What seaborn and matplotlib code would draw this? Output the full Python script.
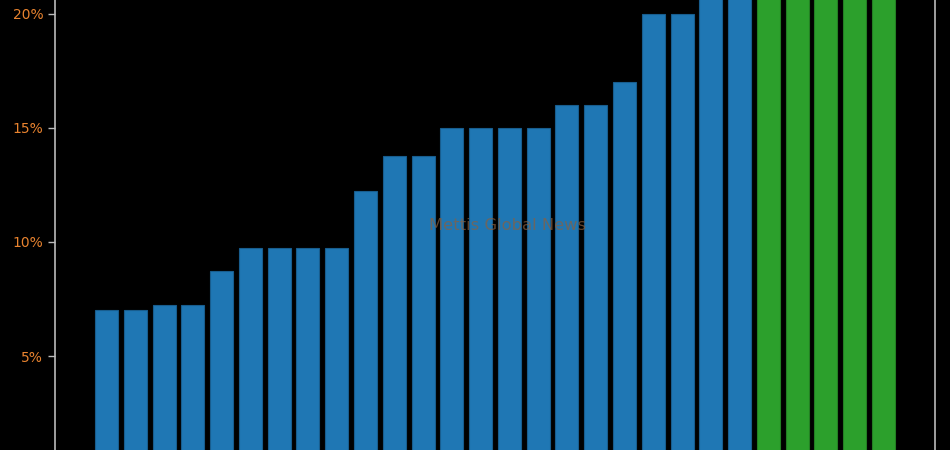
import pandas as pd
import matplotlib.pyplot as plt
import seaborn as sns
from matplotlib.ticker import FuncFormatter

# Bar values (%); bars above 20.6% are cut off at the top
labels = [f"B{i + 1}" for i in range(28)]
values = [7.0, 7.0, 7.25, 7.25, 8.75, 9.75, 9.75, 9.75, 9.75, 12.25,
          13.75, 13.75, 15.0, 15.0, 15.0, 15.0, 16.0, 16.0, 17.0, 20.0,
          20.0, 21.0, 21.5, 22.0, 22.0, 22.5, 23.0, 24.0]
groups = ["blue"] * 23 + ["green"] * 5
colors = {"blue": "#1f77b4", "green": "#2ca02c"}
edges = {"blue": "#185d8e", "green": "#237f23"}

df = pd.DataFrame({"label": labels, "value": values, "group": groups})

sns.set_style("ticks")
fig = plt.figure(figsize=(9.5, 4.5), dpi=100, facecolor="black")
ax = fig.add_axes([55 / 950, 0, 880 / 950, 1])
ax.set_facecolor("black")

sns.barplot(data=df, x="label", y="value", hue="group", palette=colors,
            dodge=False, width=0.8, legend=False, ax=ax, saturation=1)

# thin darker edge on each bar
for bar, grp in zip(ax.containers[0].patches + ax.containers[1].patches,
                    ["blue"] * 23 + ["green"] * 5):
    bar.set_edgecolor(edges[grp])
    bar.set_linewidth(0.8)

ax.set_xlim(-1.79, 28.79)
ax.set_ylim(0.88, 20.61)
ax.set_yticks([5, 10, 15, 20])
ax.yaxis.set_major_formatter(FuncFormatter(lambda v, p: f"{v:.0f}%"))
ax.tick_params(axis="y", colors="#bbbbbb", labelcolor="#e8832f",
               labelsize=10, length=5, width=1, left=True, direction="out")
ax.set_xticks([])
ax.set_xlabel("")
ax.set_ylabel("")
ax.grid(False)

for side in ["left", "right"]:
    ax.spines[side].set_visible(True)
    ax.spines[side].set_color("#bbbbbb")
    ax.spines[side].set_linewidth(1.2)
for side in ["top", "bottom"]:
    ax.spines[side].set_visible(False)

# watermark
fig.text(508 / 950, 1 - 225 / 450, "Mettis Global News", fontsize=11.8,
         color="#8a6040", alpha=0.7, ha="center", va="center")

fig.savefig("out.png", dpi=100, facecolor="black")
